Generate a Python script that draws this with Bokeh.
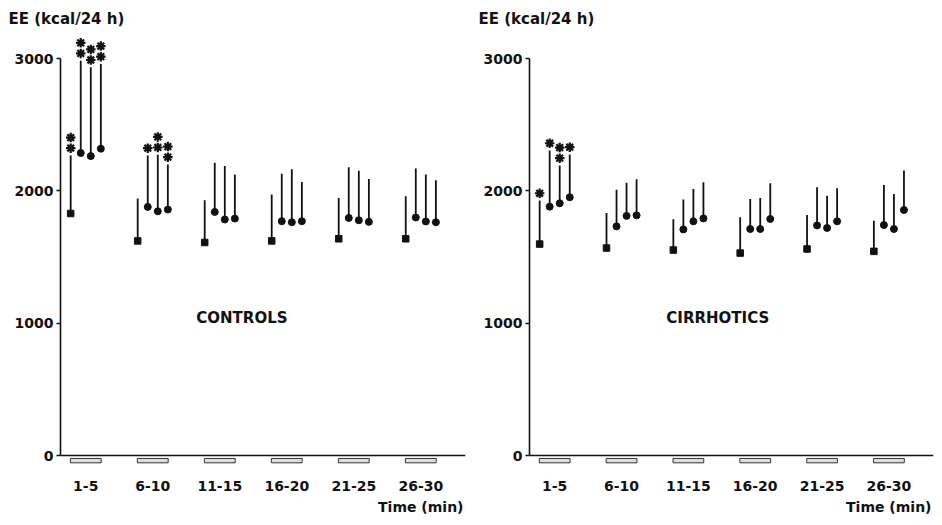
from bokeh.plotting import figure
from bokeh.models import Range1d, FixedTicker, Span, Label, Title
from bokeh.layouts import row
from bokeh.embed import file_html
from bokeh.resources import INLINE

# ---------------- data ----------------
periods = ["1-5", "6-10", "11-15", "16-20", "21-25", "26-30"]
y_ticks = [0, 1000, 2000, 3000]

# four measurements per period: baseline (square) then three (circles)
ctrl_mean = [
    [1829, 2286, 2263, 2319],
    [1622, 1879, 1846, 1859],
    [1610, 1841, 1784, 1791],
    [1622, 1771, 1763, 1771],
    [1638, 1796, 1778, 1766],
    [1638, 1799, 1769, 1763],
]
ctrl_sd = [
    [439, 698, 671, 640],
    [320, 389, 427, 341],
    [319, 372, 404, 332],
    [350, 359, 400, 296],
    [309, 382, 375, 324],
    [321, 371, 354, 317],
]
ctrl_stars = [
    [2, 2, 2, 2],
    [0, 1, 2, 2],
    [0, 0, 0, 0],
    [0, 0, 0, 0],
    [0, 0, 0, 0],
    [0, 0, 0, 0],
]

cirr_mean = [
    [1598, 1881, 1906, 1952],
    [1568, 1732, 1811, 1815],
    [1553, 1709, 1770, 1792],
    [1530, 1712, 1712, 1788],
    [1561, 1739, 1720, 1770],
    [1543, 1742, 1712, 1856],
]
cirr_sd = [
    [329, 424, 286, 323],
    [265, 276, 250, 273],
    [232, 225, 245, 273],
    [270, 227, 235, 270],
    [257, 288, 244, 250],
    [232, 303, 265, 298],
]
cirr_stars = [
    [1, 1, 2, 1],
    [0, 0, 0, 0],
    [0, 0, 0, 0],
    [0, 0, 0, 0],
    [0, 0, 0, 0],
    [0, 0, 0, 0],
]

FONT = "DejaVu Sans"
INK = "#111111"
OFFSETS = [-0.225, -0.075, 0.075, 0.225]


def make_panel(mean, sd, stars, group_name, width, border_right, name_x, title_off):
    p = figure(width=width, height=525,
               x_range=Range1d(-0.377, 5.667), y_range=Range1d(-113, 3212),
               output_backend="svg", toolbar_location=None,
               min_border_left=60, min_border_right=border_right,
               min_border_top=30, min_border_bottom=55)
    p.grid.visible = False
    p.outline_line_color = None
    p.background_fill_color = "white"
    p.border_fill_color = "white"

    # y-axis title at top left
    p.title.text = "EE (kcal/24 h)"
    p.title.align = "left"
    p.title.offset = title_off
    p.title.text_font = FONT
    p.title.text_font_style = "bold"
    p.title.text_font_size = "15px"
    p.title.text_color = INK
    p.title.standoff = 6

    # y axis
    ya = p.yaxis[0]
    ya.ticker = FixedTicker(ticks=y_ticks)
    ya.bounds = (0, 3000)
    ya.minor_tick_line_color = None
    ya.major_tick_in = 0
    ya.major_tick_out = 4
    ya.major_tick_line_width = 1.5
    ya.major_tick_line_color = INK
    ya.axis_line_width = 1.6
    ya.axis_line_color = INK
    ya.major_label_standoff = 3
    ya.major_label_text_font = FONT
    ya.major_label_text_font_style = "bold"
    ya.major_label_text_font_size = "14px"
    ya.major_label_text_color = INK

    # x axis (labels only; baseline drawn as span)
    xa = p.xaxis[0]
    xa.ticker = FixedTicker(ticks=list(range(len(periods))))
    xa.major_label_overrides = {i: s for i, s in enumerate(periods)}
    xa.axis_line_color = None
    xa.major_tick_line_color = None
    xa.minor_tick_line_color = None
    xa.major_tick_out = 0
    xa.major_label_standoff = 10
    xa.major_label_text_font = FONT
    xa.major_label_text_font_style = "bold"
    xa.major_label_text_font_size = "14px"
    xa.major_label_text_color = INK

    p.add_layout(Title(text="Time (min)", align="right", offset=2, text_font=FONT,
                       text_font_style="bold", text_font_size="14px",
                       text_color=INK, standoff=6), "below")

    p.add_layout(Span(location=0, dimension="width", line_color=INK, line_width=1.6))

    # small boxes under each period
    gx = list(range(len(periods)))
    p.quad(left=[g - 0.23 for g in gx], right=[g + 0.23 for g in gx],
           top=[-22] * len(gx), bottom=[-55] * len(gx),
           fill_color="#dddddd", line_color="#333333", line_width=1)

    xs, ys, tops, kinds = [], [], [], []
    star_x, star_y = [], []
    for g in range(len(periods)):
        for k in range(4):
            x = g + OFFSETS[k]
            m = mean[g][k]
            t = m + sd[g][k]
            xs.append(x)
            ys.append(m)
            tops.append(t)
            kinds.append("square" if k == 0 else "circle")
            for s in range(stars[g][k]):
                star_x.append(x)
                star_y.append(t + 55 + 80 * s)

    p.segment(x0=xs, y0=ys, x1=xs, y1=tops, line_color=INK, line_width=1.8)
    sq = [i for i, kd in enumerate(kinds) if kd == "square"]
    ci = [i for i, kd in enumerate(kinds) if kd == "circle"]
    p.scatter(x=[xs[i] for i in sq], y=[ys[i] for i in sq], marker="square",
              size=6.5, fill_color=INK, line_color=INK)
    p.scatter(x=[xs[i] for i in ci], y=[ys[i] for i in ci], marker="circle",
              size=7, fill_color=INK, line_color=INK)
    if star_x:
        p.scatter(x=star_x, y=star_y, marker="asterisk", size=9.5,
                  line_color=INK, line_width=2.2)

    p.add_layout(Label(x=name_x, y=1043, text=group_name, text_align="center",
                       text_baseline="middle", text_font=FONT, text_font_style="bold",
                       text_font_size="15px", text_color=INK))
    return p


p1 = make_panel(ctrl_mean, ctrl_sd, ctrl_stars, "CONTROLS", 469, 4, 2.33, -52)
p2 = make_panel(cirr_mean, cirr_sd, cirr_stars, "CIRRHOTICS", 473, 9, 2.44, -51)

layout = row(p1, p2)
open("out.html", "w").write(file_html(layout, INLINE))
